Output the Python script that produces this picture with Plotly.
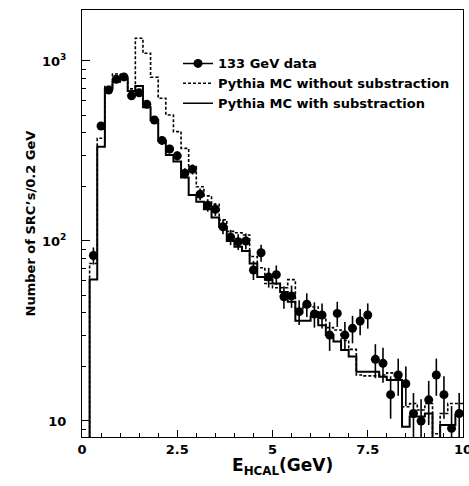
import plotly.graph_objects as go

# bin edges (0.2 GeV bins from 0 to 10)
bin_lo = [round(0.2 * i, 1) for i in range(50)]
bin_hi_last = 10.0
bin_centers = [round(0.2 * i + 0.1, 1) for i in range(50)]

# 133 GeV data (bin 0-0.2 empty)
data_x = bin_centers[1:]
data_y = [83, 435, 690, 790, 815, 640, 665, 575, 470, 362,
          324, 297, 238, 250, 182, 158, 150, 120, 105, 99,
          100, 69, 86, 63, 65, 49, 49.5, 40.5, 44.5, 39.3,
          38.8, 30, 39.6, 30, 32.7, 35.9, 38.8, 22, 20.9, 14,
          18, 16.1, 11, 10, 13.1, 18, 14, 9.1, 11]
data_err = [9, 21, 26, 28, 29, 25, 26, 24, 22, 19,
            18, 17, 15.5, 16, 13.5, 12.6, 12.2, 11, 10.2, 10,
            10, 8.3, 9.3, 7.9, 8.1, 7, 7, 6.4, 6.7, 6.3,
            6.2, 5.5, 6.3, 5.5, 5.7, 6, 6.2, 4.7, 4.6, 3.7,
            4.2, 4, 3.3, 3.2, 3.6, 4.2, 3.7, 3, 3.3]

# Pythia MC without substraction (dashed)
mc_nosub = [1, 75, 372, 720, 847, 826, 700, 1337, 1104, 811,
            621, 501, 405, 327, 259, 200, 178, 160, 131, 113,
            111, 108, 82, 71, 58, 55, 55, 61, 42, 44,
            43, 38, 33, 32, 28, 25, 18, 17.8, 17.8, 18,
            18.5, 17, 12, 12.5, 11.5, 12.5, 8.5, 11, 12.5, 12.5]

# Pythia MC with substraction (solid)
mc_sub = [1, 61, 334, 700, 767, 790, 680, 725, 553, 470,
          360, 300, 276, 225, 180, 165, 150, 135, 120, 100,
          93, 88, 75, 63, 61, 58, 52, 46, 36, 36,
          38, 34, 30, 27.6, 24.8, 22.8, 18.8, 18.8, 18.8, 17.6,
          16.9, 16.9, 9.3, 10.6, 10.6, 11, 7, 9.5, 9.5, 10.8]

x_ticks = [0, 2.5, 5, 7.5, 10]
x_ticktext = ["0", "2.5", "5", "7.5", "10"]
y_ticks = [10, 100, 1000]
y_ticktext = ["10", "10<sup>2</sup>", "10<sup>3</sup>"]
y_minor = [9, 20, 30, 40, 50, 60, 70, 80, 90,
           200, 300, 400, 500, 600, 700, 800, 900]

FONT = "DejaVu Sans"

fig = go.Figure()

step_x = bin_lo + [bin_hi_last]

fig.add_trace(go.Scatter(
    x=step_x, y=mc_nosub + [mc_nosub[-1]], mode="lines", line_shape="hv",
    line=dict(color="black", width=1.6, dash="3px,2px"),
    showlegend=False, hoverinfo="skip"))
fig.add_trace(go.Scatter(
    x=step_x, y=mc_sub + [mc_sub[-1]], mode="lines", line_shape="hv",
    line=dict(color="black", width=2),
    showlegend=False, hoverinfo="skip"))
fig.add_trace(go.Scatter(
    x=data_x, y=data_y, mode="markers",
    marker=dict(color="black", size=9, symbol="circle"),
    error_y=dict(type="data", array=data_err, color="black", thickness=1.6, width=0),
    showlegend=False))

# legend entries
fig.add_trace(go.Scatter(x=[None], y=[None], mode="lines+markers", name="133 GeV data",
                         marker=dict(color="black", size=9), line=dict(color="black", width=1.5)))
fig.add_trace(go.Scatter(x=[None], y=[None], mode="lines", name="Pythia MC without substraction",
                         line=dict(color="black", width=1.6, dash="3px,2px")))
fig.add_trace(go.Scatter(x=[None], y=[None], mode="lines", name="Pythia MC with substraction",
                         line=dict(color="black", width=1.6)))

fig.update_layout(
    width=469, height=486,
    margin=dict(l=82, r=6, t=10, b=49, autoexpand=False),
    paper_bgcolor="white", plot_bgcolor="white",
    font=dict(family=FONT, size=13, color="black", weight="bold"),
    legend=dict(x=0.252, y=0.91, xanchor="left", yanchor="top",
                bgcolor="rgba(0,0,0,0)", font=dict(family=FONT, size=13, weight="bold"),
                tracegroupgap=0, itemwidth=30),
    xaxis=dict(range=[0, 10], showgrid=False, zeroline=False, automargin=False,
               showline=True, linecolor="black", linewidth=1, mirror=True,
               ticks="inside", ticklen=7, tickwidth=1, tickcolor="black",
               tickvals=x_ticks, ticktext=x_ticktext, ticklabeloverflow="allow",
               tickfont=dict(family=FONT, size=13, weight="bold"),
               minor=dict(ticks="inside", ticklen=4, dtick=0.5, tick0=0, tickcolor="black", showgrid=False)),
    yaxis=dict(type="log", range=[0.911, 3.283], showgrid=False, zeroline=False, automargin=False,
               showline=True, linecolor="black", linewidth=1, mirror=True,
               ticks="inside", ticklen=8, tickwidth=1, tickcolor="black",
               tickvals=y_ticks, ticktext=y_ticktext,
               tickfont=dict(family=FONT, size=13, weight="bold"), ticklabelstandoff=12,
               minor=dict(ticks="inside", ticklen=4, tickvals=y_minor, tickcolor="black", showgrid=False),
               title=dict(text="Number of SRC\u2019s/0.2 GeV", font=dict(family=FONT, size=13, weight="bold"), standoff=3)),
    annotations=[dict(text="E<sub>HCAL</sub>(GeV)", xref="paper", yref="paper",
                      x=0.525, y=-0.068, xanchor="center", yanchor="middle", showarrow=False,
                      font=dict(family=FONT, size=17, weight="bold"))],
)

fig.write_html("out.html")
